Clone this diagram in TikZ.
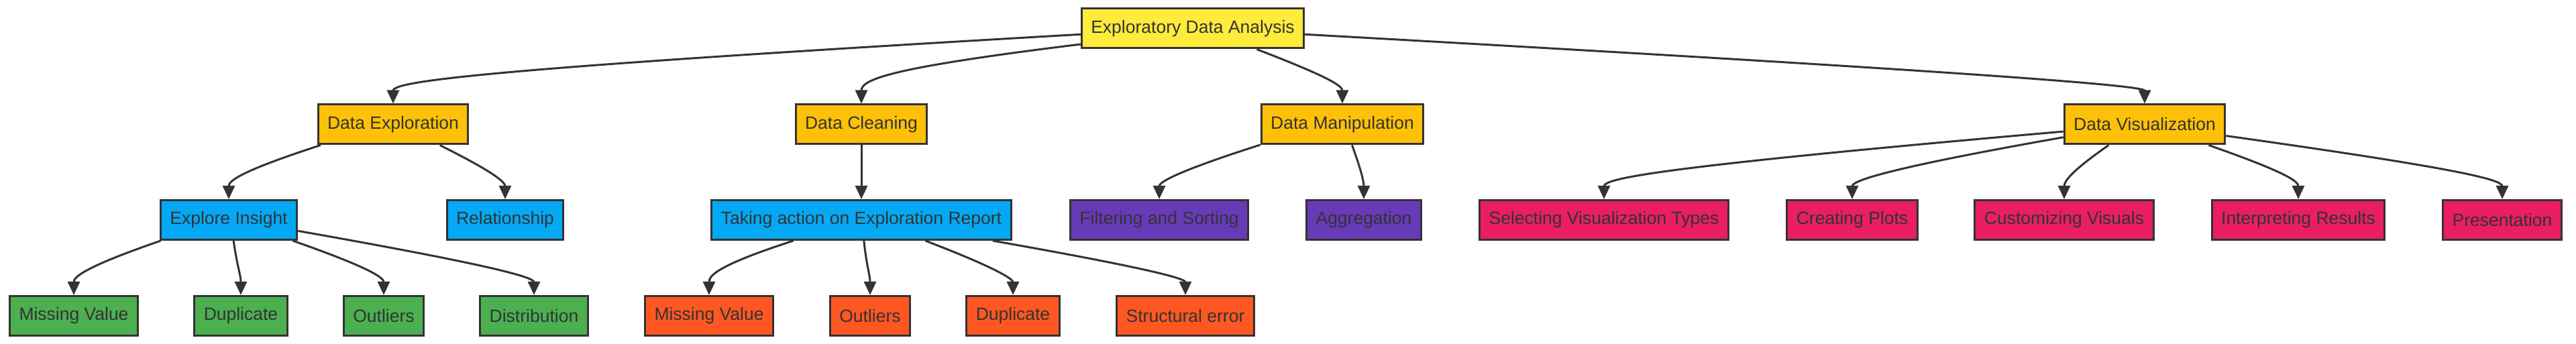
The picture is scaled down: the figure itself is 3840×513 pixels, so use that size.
\documentclass[tikz,border=0pt]{standalone}
\usepackage{fontspec}
\setmainfont{Liberation Sans}
\usepackage{tikz}
\usetikzlibrary{arrows.meta}
\definecolor{myink}{HTML}{333333}
\definecolor{myyellow}{HTML}{FFEB3B}
\definecolor{myamber}{HTML}{FFC107}
\definecolor{myblue}{HTML}{03A9F4}
\definecolor{mygreen}{HTML}{4CAF50}
\definecolor{myorange}{HTML}{FF5722}
\definecolor{mypurple}{HTML}{673AB7}
\definecolor{mypink}{HTML}{E91E63}

\begin{document}
\begin{tikzpicture}[x=0.5pt,y=0.5pt,
  box/.style={draw=myink,line width=1.5pt,text=myink,inner xsep=7pt,
    minimum height=29.5pt,font=\fontsize{13.25pt}{15pt}\selectfont},
  link/.style={draw=myink,line width=1.5pt,-{Triangle[length=10pt,width=9pt]}}]
  \useasboundingbox (0,0) rectangle (3840,513);
  % top
  \node[box,fill=myyellow] (eda) at (1778,470.5) {Exploratory Data Analysis};
  % second row
  \node[box,fill=myamber] (dexp)   at (586,327.5)  {Data Exploration};
  \node[box,fill=myamber] (dclean) at (1284,327.5) {Data Cleaning};
  \node[box,fill=myamber] (dmanip) at (2001,327.5) {Data Manipulation};
  \node[box,fill=myamber] (dviz)   at (3197,327.5) {Data Visualization};
  % third row
  \node[box,fill=myblue]   (insight)  at (341,185)  {Explore Insight};
  \node[box,fill=myblue]   (relation) at (753,185)  {Relationship};
  \node[box,fill=myblue]   (action)   at (1284,185) {Taking action on Exploration Report};
  \node[box,fill=mypurple] (filter)   at (1728,185) {Filtering and Sorting};
  \node[box,fill=mypurple] (aggr)     at (2033,185) {Aggregation};
  \node[box,fill=mypink]   (vtypes)   at (2391,185) {Selecting Visualization Types};
  \node[box,fill=mypink]   (plots)    at (2761,185) {Creating Plots};
  \node[box,fill=mypink]   (custom)   at (3077,185) {Customizing Visuals};
  \node[box,fill=mypink]   (interp)   at (3426,185) {Interpreting Results};
  \node[box,fill=mypink]   (present)  at (3730,185) {Presentation};
  % bottom row
  \node[box,fill=mygreen]  (gmiss)   at (110,42)  {Missing Value};
  \node[box,fill=mygreen]  (gdup)    at (359,42)  {Duplicate};
  \node[box,fill=mygreen]  (gout)    at (572,42)  {Outliers};
  \node[box,fill=mygreen]  (gdist)   at (796,42)  {Distribution};
  \node[box,fill=myorange] (omiss)   at (1057,42) {Missing Value};
  \node[box,fill=myorange] (oout)    at (1297,42) {Outliers};
  \node[box,fill=myorange] (odup)    at (1510,42) {Duplicate};
  \node[box,fill=myorange] (ostruct) at (1767,42) {Structural error};
  % edges: start anchor / target / leaving angle / pull / drop
  \foreach \s/\t/\o/\r/\d in {eda.183/dexp/183.3/873/34, eda.188/dclean/187/280/37,
      eda.342.2/dmanip/-21/119/26, eda.357/dviz/-3.2/1066/26,
      dexp.196.5/insight/198/128/27, dexp.336.5/relation/-26.5/93/25,
      dmanip.194.7/filter/197.7/142/24, dmanip.295/aggr/-70/44/25,
      dviz.185/vtypes/185/585/32, dviz.189.7/plots/190/273/27,
      dviz.210/custom/214.8/70/26, dviz.342.6/interp/-19.3/120/27,
      dviz.352.6/present/-8/354/29,
      insight.197/gmiss/199/120/27, insight.283/gdup/-82/40/30,
      insight.342.6/gout/-19.3/122/26, insight.351.2/gdist/-10/303/26,
      action.197.9/omiss/198/120/29, action.277.6/oout/-84/40/30,
      action.342/odup/-21/121/23, action.351.3/ostruct/-10/247/24}
    \draw[link] (\s) .. controls +(\o:\r) and +(0,\d) .. (\t.north);
  \draw[link] (dclean) -- (action);
\end{tikzpicture}
\end{document}
